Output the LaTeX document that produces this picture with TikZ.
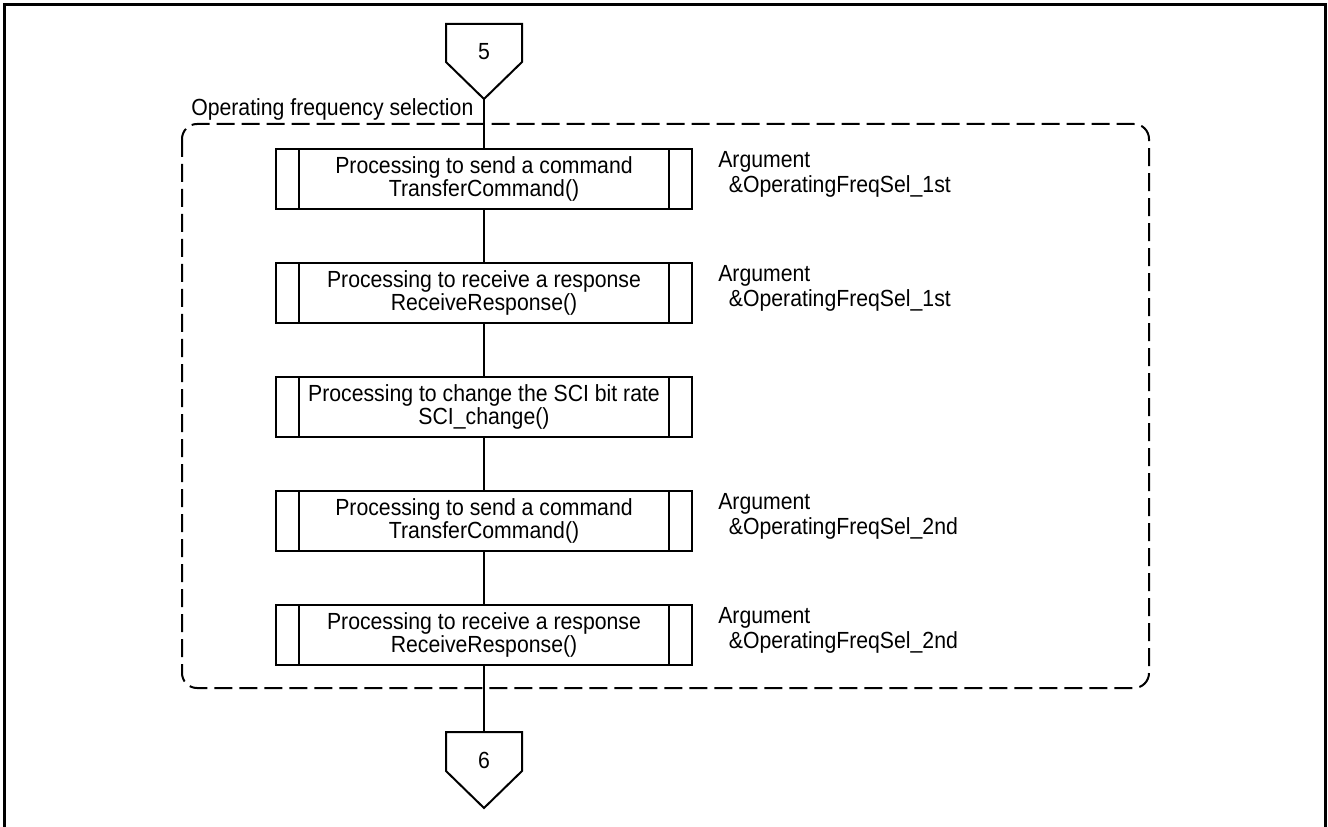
\documentclass[tikz,border=0pt]{standalone}
\usepackage{fontspec}
\setmainfont{Liberation Sans}[FakeStretch=0.91]
\begin{document}
\begin{tikzpicture}[x=0.75pt,y=-0.75pt,
  txt/.style={font=\fontsize{17.5pt}{17.5pt}\selectfont, inner sep=0pt},
  procbox/.style={txt, draw, line width=1.5pt, minimum width=312pt, minimum height=45pt,
    align=center,
    path picture={\draw[line width=1.5pt]
      ([xshift=17.25pt]path picture bounding box.north west) -- ([xshift=17.25pt]path picture bounding box.south west)
      ([xshift=-17.25pt]path picture bounding box.north east) -- ([xshift=-17.25pt]path picture bounding box.south east);}},
  arglabel/.style={font=\fontsize{17.5pt}{19pt}\selectfont, inner sep=0pt, align=left, anchor=north west},
  flow/.style={line width=1.5pt},
  offpage/.style={line width=1.5pt, line join=miter},
  group/.style={line width=1.5pt, dash pattern=on 13.5pt off 5.25pt, rounded corners=11.25pt},
  frame/.style={line width=2.25pt}]
\useasboundingbox (0,0) rectangle (1328,827);
\fill[white] (0,0) rectangle (1328,827);
\clip (0,0) rectangle (1328,827);
% outer frame
\draw[frame] (4,840) -- (4,5) -- (1325,5) -- (1325,840);
% off-page connector 5
\draw[offpage] (446,24) -- (522,24) -- (522,62) -- (484,99) -- (446,62) -- cycle;
\node[txt] (p5) at (484,52) {5};
\coordinate (p5tip) at (484,99);
% group
\draw[group] (182,124) rectangle (1149,688);
\node[txt, anchor=base west] (grp) at (191,116) {Operating frequency selection};
% process boxes
\node[procbox] (b1) at (484,179) {Processing to send a command\\TransferCommand()};
\node[procbox] (b2) at (484,293) {Processing to receive a response\\ReceiveResponse()};
\node[procbox] (b3) at (484,407) {Processing to change the SCI bit rate\\SCI\_change()};
\node[procbox] (b4) at (484,521) {Processing to send a command\\TransferCommand()};
\node[procbox] (b5) at (484,635) {Processing to receive a response\\ReceiveResponse()};
% argument labels
\node[arglabel] (a1) at (718,151) {Argument\\\hspace*{8pt}\&OperatingFreqSel\_1st};
\node[arglabel] (a2) at (718,265) {Argument\\\hspace*{8pt}\&OperatingFreqSel\_1st};
\node[arglabel] (a4) at (718,493) {Argument\\\hspace*{8pt}\&OperatingFreqSel\_2nd};
\node[arglabel] (a5) at (718,607) {Argument\\\hspace*{8pt}\&OperatingFreqSel\_2nd};
% off-page connector 6
\draw[offpage] (446,732) -- (522,732) -- (522,771) -- (484,808) -- (446,771) -- cycle;
\node[txt] (p6) at (484,760) {6};
\coordinate (p6top) at (484,732);
% connectors
\draw[flow] (p5tip) -- (b1.north);
\draw[flow] (b1.south) -- (b2.north);
\draw[flow] (b2.south) -- (b3.north);
\draw[flow] (b3.south) -- (b4.north);
\draw[flow] (b4.south) -- (b5.north);
\draw[flow] (b5.south) -- (p6top);
\end{tikzpicture}
\end{document}
